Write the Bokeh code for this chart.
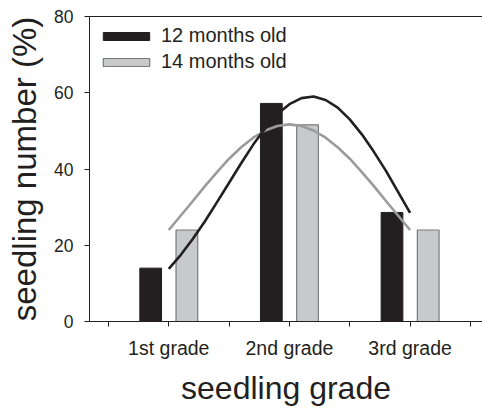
from bokeh.plotting import figure
from bokeh.models import FixedTicker, Legend, LegendItem, ColumnDataSource, LinearAxis
from bokeh.embed import file_html
from bokeh.resources import INLINE

# ---- data ----
grades = ["1st grade", "2nd grade", "3rd grade"]
grade_pos = [1, 2, 3]
months12 = [14.0, 57.2, 28.6]
months14 = [24.0, 51.6, 24.0]

curve_x = [1.0, 1.1, 1.2, 1.3, 1.4, 1.5, 1.6, 1.7, 1.8, 1.9, 2.0,
           2.1, 2.2, 2.3, 2.4, 2.5, 2.6, 2.7, 2.8, 2.9, 3.0]
curve12 = [13.8, 17.5, 21.7, 26.3, 31.3, 36.4, 41.5, 46.4, 50.7, 54.4, 57.0,
           58.6, 59.0, 58.1, 56.1, 53.0, 49.1, 44.5, 39.5, 34.0, 28.5]
curve14 = [24.0, 27.8, 31.6, 35.5, 39.2, 42.7, 45.7, 48.2, 50.1, 51.3, 51.7,
           51.3, 50.1, 48.2, 45.7, 42.7, 39.2, 35.5, 31.6, 27.8, 24.0]

y_ticks = [0, 20, 40, 60, 80]
x_ticks = [0.5, 1, 1.5, 2, 2.5, 3, 3.5]

FONT = "Liberation Sans"
DARK = "#231f20"

p = figure(width=482, height=408, output_backend="svg", toolbar_location=None,
           x_range=(0.343, 3.60), y_range=(0, 80),
           min_border_top=16, min_border_right=0, min_border_bottom=86, min_border_left=89)
p.outline_line_color = None
p.xgrid.visible = False
p.ygrid.visible = False
p.background_fill_color = "white"
p.border_fill_color = "white"

off = 0.15
bw = 0.18
src = ColumnDataSource(dict(
    x12=[g - off for g in grade_pos], x14=[g + off for g in grade_pos],
    m12=months12, m14=months14))
r12 = p.vbar(x="x12", top="m12", width=bw, source=src, fill_color=DARK,
             line_color=DARK, line_width=1)
r14 = p.vbar(x="x14", top="m14", width=bw, source=src, fill_color="#c8c9cb",
             line_color="#7a7a7a", line_width=1.2)

p.line(curve_x, curve14, line_color="#9b9b9b", line_width=2.6)
p.line(curve_x, curve12, line_color=DARK, line_width=2.6)

xb = p.below[0]
yl = p.left[0]

# axes
for ax in (xb, yl):
    ax.axis_line_color = DARK
    ax.major_tick_line_color = DARK
    ax.major_tick_out = 5
    ax.major_tick_in = 0
    ax.minor_tick_line_color = None
    ax.major_label_text_font = FONT
    ax.major_label_text_color = DARK
    ax.axis_label_text_font = FONT
    ax.axis_label_text_font_style = "normal"
    ax.axis_label_text_color = DARK

yl.ticker = FixedTicker(ticks=y_ticks)
yl.major_label_text_font_size = "17.5px"
yl.major_label_standoff = 11
yl.axis_label = "seedling number (%)"
yl.axis_label_text_font_size = "33px"
yl.axis_label_standoff = 8

xb.ticker = FixedTicker(ticks=x_ticks)
xb.major_label_overrides = {0.5: "", 1: grades[0], 1.5: "", 2: grades[1],
                            2.5: "", 3: grades[2], 3.5: ""}
xb.major_label_text_font_size = "19.5px"
xb.major_label_standoff = 10
xb.axis_label = "seedling grade"
xb.axis_label_text_font_size = "32px"
xb.axis_label_standoff = 8

# top frame line: an unlabeled axis
top = LinearAxis(ticker=FixedTicker(ticks=[]), major_label_text_font_size="0px",
                 major_tick_line_color=None, minor_tick_line_color=None,
                 axis_line_color=DARK, major_label_standoff=0)
p.add_layout(top, "above")

legend = Legend(items=[LegendItem(label="12 months old", renderers=[r12]),
                       LegendItem(label="14 months old", renderers=[r14])],
                location="top_left", margin=8, padding=0, spacing=3,
                glyph_width=58, glyph_height=10, label_standoff=6,
                label_text_font=FONT, label_text_font_size="20px",
                label_text_color=DARK, border_line_color=None,
                background_fill_alpha=0)
p.add_layout(legend)

open("out.html", "w").write(file_html(p, INLINE))
